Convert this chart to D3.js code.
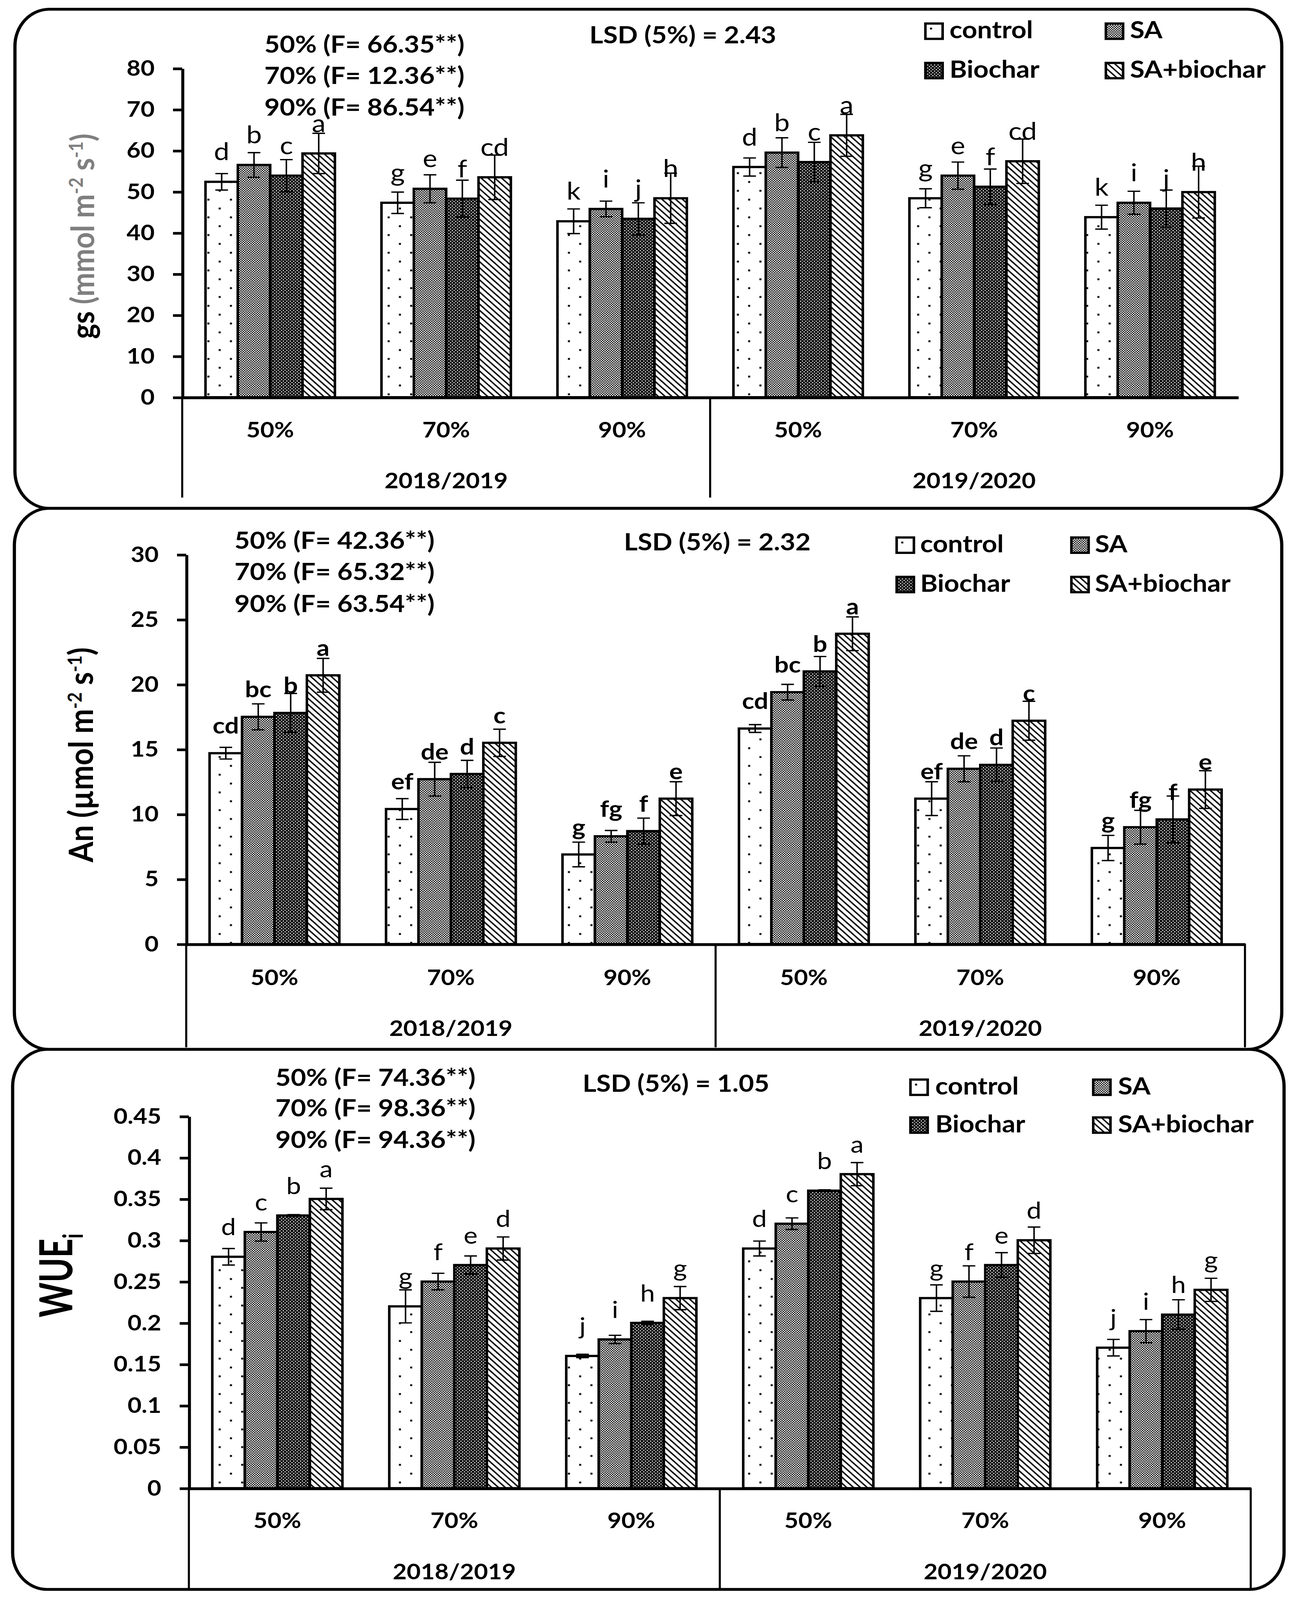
<!DOCTYPE html>
<html>
<head>
<meta charset="utf-8">
<script src="https://cdn.jsdelivr.net/npm/d3@7"></script>
<style>
  html, body { margin: 0; padding: 0; background: #fff; overflow: hidden; }
  svg { display: block; }
  text { font-family: Lato, "Open Sans", sans-serif; font-weight: bold; fill: #000; }
</style>
</head>
<body>
<div id="chart"></div>
<script>
// ---- data ----
const treatments = ["control", "SA", "Biochar", "SA+biochar"];
const seasons = ["2018/2019", "2019/2020"];
const levels = ["50%", "70%", "90%"];

// rows: 2018/2019 50,70,90 then 2019/2020 50,70,90 ; cols: treatments
const gsMean = [
  [52.4, 56.5, 53.9, 59.3],
  [47.3, 50.7, 48.3, 53.5],
  [42.8, 45.8, 43.4, 48.4],
  [56.0, 59.5, 57.2, 63.7],
  [48.4, 53.9, 51.2, 57.4],
  [43.8, 47.3, 45.9, 49.9]
];
const gsErr = [
  [2.0, 3.0, 3.9, 4.9],
  [2.6, 3.4, 4.5, 5.4],
  [3.0, 1.9, 3.9, 6.1],
  [2.2, 3.6, 4.8, 5.1],
  [2.3, 3.3, 4.3, 5.4],
  [2.9, 2.8, 4.5, 6.3]
];
const gsLetters = [
  ["d", "b", "c", "a"], ["g", "e", "f", "cd"], ["k", "i", "j", "h"],
  ["d", "b", "c", "a"], ["g", "e", "f", "cd"], ["k", "i", "j", "h"]
];
const gsTicks = [0, 10, 20, 30, 40, 50, 60, 70, 80];
const gsF = ["50% (F= 66.35**)", "70% (F= 12.36**)", "90% (F= 86.54**)"];
const gsLSD = "LSD (5%) = 2.43";

const anMean = [
  [14.7, 17.5, 17.8, 20.7],
  [10.4, 12.7, 13.1, 15.5],
  [6.9, 8.3, 8.7, 11.2],
  [16.6, 19.4, 21.0, 23.9],
  [11.2, 13.5, 13.8, 17.2],
  [7.4, 9.0, 9.6, 11.9]
];
const anErr = [
  [0.45, 1.0, 1.5, 1.3],
  [0.8, 1.3, 1.05, 1.05],
  [0.95, 0.45, 1.0, 1.3],
  [0.3, 0.6, 1.15, 1.3],
  [1.3, 1.0, 1.3, 1.5],
  [0.97, 1.3, 1.8, 1.45]
];
const anLetters = [
  ["cd", "bc", "b", "a"], ["ef", "de", "d", "c"], ["g", "fg", "f", "e"],
  ["cd", "bc", "b", "a"], ["ef", "de", "d", "c"], ["g", "fg", "f", "e"]
];
const anTicks = [0, 5, 10, 15, 20, 25, 30];
const anF = ["50% (F= 42.36**)", "70% (F= 65.32**)", "90% (F= 63.54**)"];
const anLSD = "LSD (5%) = 2.32";

const wueMean = [
  [0.28, 0.31, 0.33, 0.35],
  [0.22, 0.25, 0.27, 0.29],
  [0.16, 0.18, 0.20, 0.23],
  [0.29, 0.32, 0.36, 0.38],
  [0.23, 0.25, 0.27, 0.30],
  [0.17, 0.19, 0.21, 0.24]
];
const wueErr = [
  [0.010, 0.011, 0.001, 0.013],
  [0.020, 0.010, 0.011, 0.014],
  [0.002, 0.005, 0.002, 0.014],
  [0.009, 0.007, 0.001, 0.014],
  [0.016, 0.019, 0.015, 0.016],
  [0.010, 0.014, 0.018, 0.014]
];
const wueLetters = [
  ["d", "c", "b", "a"], ["g", "f", "e", "d"], ["j", "i", "h", "g"],
  ["d", "c", "b", "a"], ["g", "f", "e", "d"], ["j", "i", "h", "g"]
];
const wueTicks = [0, 0.05, 0.1, 0.15, 0.2, 0.25, 0.3, 0.35, 0.4, 0.45];
const wueF = ["50% (F= 74.36**)", "70% (F= 98.36**)", "90% (F= 94.36**)"];
const wueLSD = "LSD (5%) = 1.05";

// ---- layout (drawn in a 1130 wide coordinate space, stretched to the window) ----
const VW = 1130, VH = 1130 * 4603 / 3325;

const panels = [
  {mean: gsMean, err: gsErr, letters: gsLetters, ticks: gsTicks, fstats: gsF, lsd: gsLSD,
   box: [13, 9, 1102, 488], left: 158.5, right: 1077, top: 66.8, bottom: 388.4,
   catY: 420.3, yearY: 470, lineEnd: 486.5, rightLine: false,
   fX: 230, fY: [51.6, 82, 113], lsdX: 594, lsdY: 42.5,
   legX: [805, 962], legY: [23, 61.5], legDx: 21,
   titleX: 82, titleY: 231, title: "gs",
   letterDy: 21, letterSize: 24, letterWeight: "normal"},
  {mean: anMean, err: anErr, letters: anLetters, ticks: anTicks, fstats: anF, lsd: anLSD,
   box: [12.5, 497, 1102.5, 529], left: 162, right: 1083, top: 542.2, bottom: 923,
   catY: 956, yearY: 1005.4, lineEnd: 1024, rightLine: true,
   fX: 204, fY: [536.7, 567, 598.5], lsdX: 624, lsdY: 538,
   legX: [780, 932], legY: [525.5, 564], legDx: 20.5,
   titleX: 81, titleY: 738, title: "An",
   letterDy: 19, letterSize: 22, letterWeight: "bold"},
  {mean: wueMean, err: wueErr, letters: wueLetters, ticks: wueTicks, fstats: wueF, lsd: wueLSD,
   box: [11, 1026, 1106, 528], left: 164.3, right: 1088, top: 1091.4, bottom: 1455,
   catY: 1486.6, yearY: 1536.8, lineEnd: 1553, rightLine: true,
   fX: 239.6, fY: [1061.8, 1091.4, 1122.4], lsdX: 588, lsdY: 1067.5,
   legX: [792, 951], legY: [1055.5, 1092.5], legDx: 21.6,
   titleX: 63, titleY: 1247, title: "WUE",
   letterDy: 21, letterSize: 23, letterWeight: "normal"}
];

const pageW = window.innerWidth || 3325,
      pageH = window.innerHeight || 4603;

const svg = d3.select("#chart").append("svg")
    .attr("width", pageW)
    .attr("height", pageH)
    .attr("viewBox", "0 0 " + VW + " " + VH)
    .attr("preserveAspectRatio", "none");

svg.append("rect").attr("width", VW).attr("height", VH).attr("fill", "#fff");

// ---- fill patterns ----
const defs = svg.append("defs");

let p = defs.append("pattern").attr("id", "p-control")
    .attr("patternUnits", "userSpaceOnUse").attr("width", 19.6).attr("height", 17.3);
p.append("rect").attr("width", 19.6).attr("height", 17.3).attr("fill", "#fff");
p.append("rect").attr("x", 4).attr("y", 4).attr("width", 1.8).attr("height", 1.8).attr("fill", "#000");
p.append("rect").attr("x", 13.8).attr("y", 12.65).attr("width", 1.8).attr("height", 1.8).attr("fill", "#000");

p = defs.append("pattern").attr("id", "p-SA")
    .attr("patternUnits", "userSpaceOnUse").attr("width", 2.2).attr("height", 2.2);
p.append("rect").attr("width", 2.2).attr("height", 2.2).attr("fill", "#fff");
p.append("rect").attr("width", 1.1).attr("height", 1.1).attr("fill", "#000");
p.append("rect").attr("x", 1.1).attr("y", 1.1).attr("width", 1.1).attr("height", 1.1).attr("fill", "#000");

p = defs.append("pattern").attr("id", "p-Biochar")
    .attr("patternUnits", "userSpaceOnUse").attr("width", 3).attr("height", 3);
p.append("rect").attr("width", 3).attr("height", 3).attr("fill", "#000");
p.append("rect").attr("width", 1).attr("height", 1).attr("fill", "#fff");
p.append("rect").attr("x", 1.5).attr("y", 1.5).attr("width", 1).attr("height", 1).attr("fill", "#fff");

p = defs.append("pattern").attr("id", "p-SAbiochar")
    .attr("patternUnits", "userSpaceOnUse").attr("width", 4.2).attr("height", 4.2)
    .attr("patternTransform", "rotate(-45)");
p.append("rect").attr("width", 4.2).attr("height", 4.2).attr("fill", "#fff");
p.append("rect").attr("width", 1.3).attr("height", 4.2).attr("fill", "#000");

const fills = {
  "control": "url(#p-control)",
  "SA": "url(#p-SA)",
  "Biochar": "url(#p-Biochar)",
  "SA+biochar": "url(#p-SAbiochar)"
};

// ---- draw panels ----
panels.forEach(drawPanel);

function drawPanel(cfg) {
  const g = svg.append("g");

  // rounded frame
  g.append("rect")
      .attr("x", cfg.box[0]).attr("y", cfg.box[1])
      .attr("width", cfg.box[2]).attr("height", cfg.box[3])
      .attr("rx", 30).attr("ry", 36)
      .attr("fill", "none").attr("stroke", "#000").attr("stroke-width", 2.8);

  const y = d3.scaleLinear()
      .domain([0, d3.max(cfg.ticks)])
      .range([cfg.bottom, cfg.top]);

  const groupX = d3.scaleBand()
      .domain(d3.range(cfg.mean.length))
      .range([cfg.left, cfg.right]);

  const barX = d3.scaleBand()
      .domain(treatments)
      .range([0, groupX.bandwidth()])
      .paddingInner(0)
      .paddingOuter(0.72);

  const seasonX = d3.scaleBand()
      .domain(seasons)
      .range([cfg.left, cfg.right]);

  const rows = [];
  cfg.mean.forEach((row, gi) => {
    row.forEach((v, ti) => {
      rows.push({
        group: gi,
        treat: treatments[ti],
        value: v,
        err: cfg.err[gi][ti],
        letter: cfg.letters[gi][ti]
      });
    });
  });
  const cx = d => groupX(d.group) + barX(d.treat) + barX.bandwidth() / 2;

  // bars
  g.append("g").selectAll("rect")
      .data(rows)
      .enter()
      .append("rect")
        .attr("x", d => groupX(d.group) + barX(d.treat))
        .attr("y", d => y(d.value))
        .attr("width", barX.bandwidth())
        .attr("height", d => cfg.bottom - y(d.value))
        .attr("fill", d => fills[d.treat])
        .attr("stroke", "#000")
        .attr("stroke-width", 2.2);

  // error bars
  const eb = g.append("g").attr("stroke", "#000").attr("stroke-width", 1.3)
      .selectAll("g").data(rows).enter().append("g");
  eb.append("line")
      .attr("x1", cx).attr("x2", cx)
      .attr("y1", d => y(d.value - d.err)).attr("y2", d => y(d.value + d.err));
  eb.append("line")
      .attr("x1", d => cx(d) - 5.5).attr("x2", d => cx(d) + 5.5)
      .attr("y1", d => y(d.value + d.err)).attr("y2", d => y(d.value + d.err));
  eb.append("line")
      .attr("x1", d => cx(d) - 5.5).attr("x2", d => cx(d) + 5.5)
      .attr("y1", d => y(d.value - d.err)).attr("y2", d => y(d.value - d.err));

  // significance letters
  g.append("g").selectAll("text")
      .data(rows)
      .enter()
      .append("text")
        .attr("x", cx)
        .attr("y", d => y(d.value) - cfg.letterDy)
        .attr("text-anchor", "middle")
        .attr("font-size", cfg.letterSize)
        .style("font-weight", cfg.letterWeight)
        .text(d => d.letter);

  // y axis
  const yAxis = g.append("g")
      .attr("transform", "translate(" + cfg.left + ",0)")
      .call(d3.axisLeft(y)
          .tickValues(cfg.ticks)
          .tickSize(8)
          .tickSizeOuter(0)
          .tickPadding(16)
          .tickFormat(d => String(d)));
  yAxis.select(".domain").attr("stroke-width", 2.6);
  yAxis.selectAll(".tick line").attr("stroke-width", 2.6);
  yAxis.selectAll("text").attr("font-size", 21);

  // category axis
  const xAxis = g.append("g")
      .attr("transform", "translate(0," + cfg.bottom + ")")
      .call(d3.axisBottom(groupX)
          .tickSize(0)
          .tickSizeOuter(0)
          .tickFormat(i => levels[i % levels.length]));
  xAxis.select(".domain").attr("stroke-width", 2.8);
  xAxis.selectAll("text")
      .attr("y", cfg.catY - cfg.bottom)
      .attr("dy", "0.35em")
      .attr("font-size", 21);

  const sAxis = g.append("g")
      .attr("transform", "translate(0," + cfg.bottom + ")")
      .call(d3.axisBottom(seasonX).tickSize(0).tickSizeOuter(0));
  sAxis.select(".domain").remove();
  sAxis.selectAll("text")
      .attr("y", cfg.yearY - cfg.bottom)
      .attr("dy", "0.35em")
      .attr("font-size", 21);

  // box lines of the two-level category axis
  const sep = [cfg.left, seasonX(seasons[1])];
  if (cfg.rightLine) sep.push(cfg.right);
  g.append("g").selectAll("line")
      .data(sep)
      .enter()
      .append("line")
        .attr("x1", d => d).attr("x2", d => d)
        .attr("y1", cfg.bottom).attr("y2", cfg.lineEnd)
        .attr("stroke", "#000")
        .attr("stroke-width", 1.8);

  // F statistics
  g.append("g").selectAll("text")
      .data(cfg.fstats)
      .enter()
      .append("text")
        .attr("x", cfg.fX)
        .attr("y", (d, i) => cfg.fY[i])
        .attr("font-size", 23)
        .text(d => d);

  // LSD
  g.append("text")
      .attr("x", cfg.lsdX)
      .attr("y", cfg.lsdY)
      .attr("text-anchor", "middle")
      .attr("font-size", 23)
      .text(cfg.lsd);

  // legend
  const leg = g.append("g").selectAll("g")
      .data(treatments)
      .enter()
      .append("g")
        .attr("transform", (d, i) => "translate(" + cfg.legX[i % 2] + "," + cfg.legY[Math.floor(i / 2)] + ")");
  leg.append("rect")
      .attr("width", 15).attr("height", 15)
      .attr("fill", d => fills[d])
      .attr("stroke", "#000")
      .attr("stroke-width", 2.2);
  leg.append("text")
      .attr("x", cfg.legDx)
      .attr("y", 14.5)
      .attr("font-size", 23)
      .text(d => d);

  // y axis title
  const t = g.append("text")
      .attr("transform", "translate(" + cfg.titleX + "," + cfg.titleY + ") rotate(-90)")
      .attr("text-anchor", "middle");
  if (cfg.title === "gs") {
    t.attr("font-size", 28);
    t.append("tspan").text("gs ");
    const grey = "#7f7f7f";
    t.append("tspan").attr("fill", grey).text("(mmol m");
    t.append("tspan").attr("fill", grey).attr("font-size", 17).attr("dy", -10).text("-2");
    t.append("tspan").attr("fill", grey).attr("dy", 10).text(" s");
    t.append("tspan").attr("fill", grey).attr("font-size", 17).attr("dy", -10).text("-1");
    t.append("tspan").attr("fill", grey).attr("dy", 10).text(")");
  } else if (cfg.title === "An") {
    t.attr("font-size", 29);
    t.append("tspan").text("An (\u00b5mol m");
    t.append("tspan").attr("font-size", 17).attr("dy", -10).text("-2");
    t.append("tspan").attr("dy", 10).text(" s");
    t.append("tspan").attr("font-size", 17).attr("dy", -10).text("-1");
    t.append("tspan").attr("dy", 10).text(")");
  } else {
    t.attr("font-size", 40)
     .attr("textLength", 82)
     .attr("lengthAdjust", "spacingAndGlyphs");
    t.append("tspan").text("WUE");
    t.append("tspan").attr("font-size", 24).attr("dy", 9).text("i");
  }
}
</script>
</body>
</html>
